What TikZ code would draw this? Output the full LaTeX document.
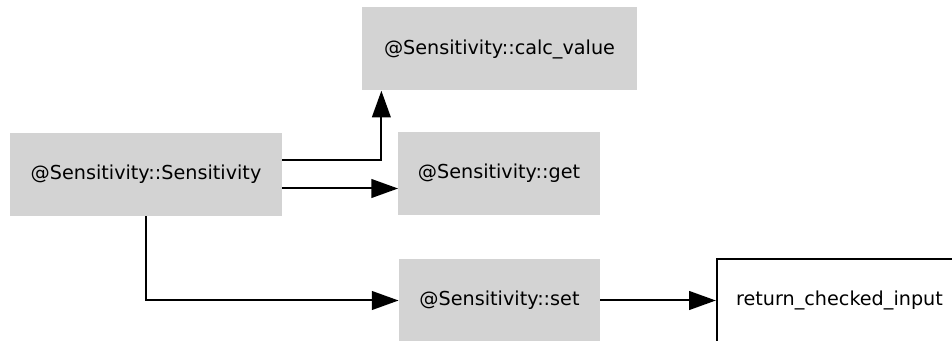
\documentclass[tikz,border=0pt]{standalone}
\usepackage{fontspec}
\setmainfont{DejaVu Sans}
\usetikzlibrary{arrows.meta}
\definecolor{boxgray}{RGB}{211,211,211}
\tikzset{
  fnode/.style = {rectangle, inner sep=0pt, align=center,
    font=\fontsize{14.4}{17}\selectfont, minimum height=62.25pt},
  fn_g/.style = {fnode, fill=boxgray},% fonction, fond gris
  fn_w/.style = {fnode, draw=black, line width=1.5pt, fill=white},% fonction externe
  call/.style = {-{Triangle[length=20pt,width=14pt]}, line width=1.5pt}
}

\begin{document}
\begin{tikzpicture}[x=0.75pt,y=-0.75pt]
  \useasboundingbox (0,0) rectangle (952,341);
  \node [fn_g, minimum width=206pt] (calc) at (499.5,49)  {@Sensitivity::calc\_value};
  \node [fn_g, minimum width=204pt] (sens) at (146,174.5) {@Sensitivity::Sensitivity};
  \node [fn_g, minimum width=151pt] (get)  at (499,173.5) {@Sensitivity::get};
  \node [fn_g, minimum width=151pt] (set)  at (499.5,300.5) {@Sensitivity::set};
  \node [fn_w, minimum width=184pt] (ret)  at (839.5,300.5) {return\_checked\_input};

  \draw [call] ([yshift=10.5pt]sens.east) -| ([xshift=14.6pt]calc.south west);
  \draw [call] ([yshift=-10.5pt]sens.east) -- ([yshift=-10.5pt]sens.east -| get.west);
  \draw [call] (sens.south) |- (set.west);
  \draw [call] (set.east) -- (ret.west);
\end{tikzpicture}
\end{document}
